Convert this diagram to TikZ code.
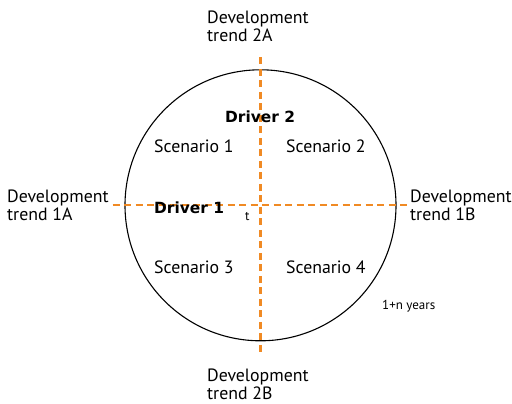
\documentclass[tikz,border=0pt]{standalone}
\usepackage{fontspec}
\setmainfont{PT Sans}
\newfontfamily\heavyfont{DejaVu Sans}
\definecolor{orng}{RGB}{240,138,36}
\begin{document}
\begin{tikzpicture}[x=1pt,y=-1pt,
  lbl/.style={inner sep=0pt, font=\fontsize{17.8}{17.5}\selectfont, align=left, anchor=base west},
  txt/.style={inner sep=0pt, font=\fontsize{17.8}{17.5}\selectfont, anchor=base west},
  bld/.style={inner sep=0pt, font=\heavyfont\bfseries\fontsize{15.4}{17.5}\selectfont, anchor=base west},
  small/.style={inner sep=0pt, font=\fontsize{13}{14}\selectfont, anchor=base west},
  axis/.style={draw=orng, line width=2.5pt, dash pattern=on 7pt off 4.5pt},
  ring/.style={circle, draw=black, line width=1.1pt, minimum size=271pt, inner sep=0pt}]
\useasboundingbox (0,0) rectangle (512,404);
\node[ring] (c) at (260.5,205.3) {};
\coordinate (L) at (112.7,205);
\coordinate (R) at (408,205);
\coordinate (T) at (260.3,57.3);
\coordinate (B) at (260.3,352.7);
\draw[axis] (L) -- (R);
\draw[axis] (T) -- (B);
\node[lbl] (d2a) at (207,41.5) {Development\\trend 2A};
\node[lbl] (d1a) at (7,220) {Development\\trend 1A};
\node[lbl] (d1b) at (410,220) {Development\\trend 1B};
\node[lbl] (d2b) at (207,399) {Development\\trend 2B};
\node[bld] (dr2) at (225,122.5) {Driver 2};
\node[bld] (dr1) at (154,213) {Driver 1};
\node[txt] (s1) at (154,153) {Scenario 1};
\node[txt] (s2) at (286,153) {Scenario 2};
\node[txt] (s3) at (154,273) {Scenario 3};
\node[txt] (s4) at (286,273) {Scenario 4};
\node[small] (t) at (245,220) {t};
\node[small] (yrs) at (382,309) {1+n years};
\end{tikzpicture}
\end{document}
